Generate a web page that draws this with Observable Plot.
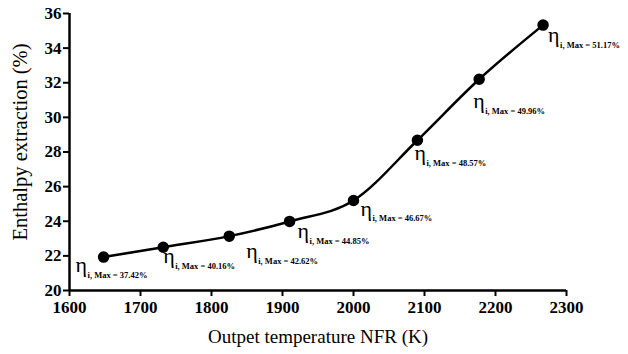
<!DOCTYPE html>
<html>
<head>
<meta charset="utf-8">
<script src="https://cdn.jsdelivr.net/npm/d3@7"></script>
<script src="https://cdn.jsdelivr.net/npm/@observablehq/plot@0.6"></script>
<style>
  html, body { margin: 0; padding: 0; background: #fff; }
  svg, svg text, svg g { font-family: "Liberation Serif", "DejaVu Serif", serif !important; }
</style>
</head>
<body>
<div id="chart"></div>
<script>
// Data
const temperature = [1648, 1732, 1825, 1910, 2000, 2090, 2177, 2267];
const enthalpy = [21.93, 22.5, 23.14, 23.99, 25.2, 28.68, 32.2, 35.33];
const etaMax = ["37.42%", "40.16%", "42.62%", "44.85%", "46.67%", "48.57%", "49.96%", "51.17%"];
const xTicks = [1600, 1700, 1800, 1900, 2000, 2100, 2200, 2300];
const yTicks = [20, 22, 24, 26, 28, 30, 32, 34, 36];

// Label placement (pixels relative to each point)
const labelDx = [-28, 0, 17, 8, 7, -3, -6, 5];
const labelDy = [8, 9, 15, 10, 8, 13, 22, 10];

const data = temperature.map((t, i) => ({
  t, e: enthalpy[i], label: "i, Max = " + etaMax[i], dx: labelDx[i], dy: labelDy[i]
}));

const serif = "Liberation Serif";

const etaMarks = data.map(d => Plot.text([d], {
  x: "t", y: "e", text: () => "η", dx: d.dx, dy: d.dy,
  textAnchor: "start", lineAnchor: "middle", fontSize: 22, fontFamily: serif, fill: "black"
}));
const subMarks = data.map(d => Plot.text([d], {
  x: "t", y: "e", text: "label", dx: d.dx + 12, dy: d.dy + 10,
  textAnchor: "start", lineAnchor: "middle", fontSize: 8.5, fontWeight: "bold", fontFamily: serif, fill: "black"
}));

const chart = Plot.plot({
  width: 628,
  height: 354,
  marginLeft: 69,
  marginRight: 62,
  marginTop: 13,
  marginBottom: 64,
  style: { fontFamily: serif, fontSize: "16px", color: "black", background: "white" },
  x: { domain: [1600, 2300], label: null },
  y: { domain: [20, 36], label: null },
  marks: [
    Plot.axisX({ ticks: xTicks, tickSize: 6, text: null, strokeWidth: 2, label: null }),
    Plot.axisY({ ticks: yTicks, tickSize: 6, text: null, strokeWidth: 2, label: null }),
    Plot.text(xTicks, { x: d => d, text: d => String(d), frameAnchor: "bottom", lineAnchor: "top", dy: 10, fontSize: 17, fontWeight: "bold", fontFamily: serif, fill: "black" }),
    Plot.text(yTicks, { y: d => d, text: d => String(d), frameAnchor: "left", textAnchor: "end", dx: -8, fontSize: 17, fontWeight: "bold", fontFamily: serif, fill: "black" }),
    Plot.ruleY([20], { stroke: "black", strokeWidth: 2.5 }),
    Plot.ruleX([1600], { stroke: "black", strokeWidth: 2.5 }),
    Plot.line(data, { x: "t", y: "e", curve: "monotone-x", stroke: "black", strokeWidth: 2.5 }),
    Plot.dot(data, { x: "t", y: "e", r: 5, fill: "black", stroke: "black" }),
    ...etaMarks,
    ...subMarks,
    Plot.text(["Outpet temperature NFR (K)"], { frameAnchor: "bottom", dy: 52, fontSize: 19, fontFamily: serif, fill: "black" }),
    Plot.text(["Enthalpy extraction (%)"], { frameAnchor: "left", textAnchor: "middle", dx: -49, dy: -10, rotate: -90, fontSize: 20.5, fontFamily: serif, fill: "black" })
  ]
});
document.getElementById("chart").appendChild(chart);
</script>
</body>
</html>
